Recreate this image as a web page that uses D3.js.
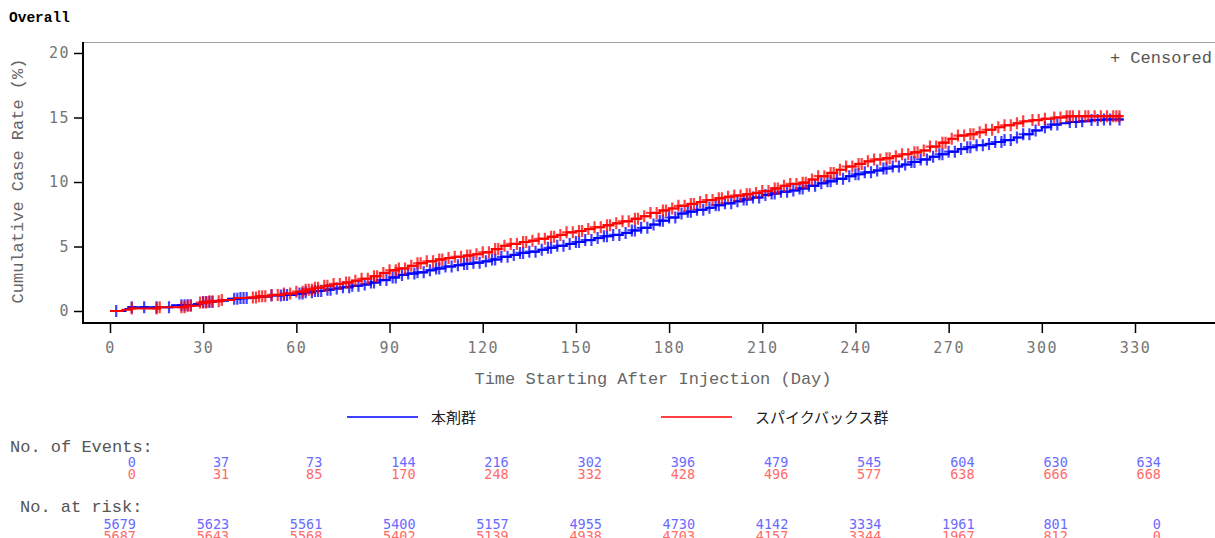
<!DOCTYPE html>
<html>
<head>
<meta charset="utf-8">
<script src="https://cdn.jsdelivr.net/npm/d3@7"></script>
<style>
  body { margin: 0; background: #fff; }
  svg { display: block; }
  .mono { font-family: "Liberation Mono", "DejaVu Sans Mono", monospace; }
  .num { font-family: "DejaVu Sans Mono", monospace; }
</style>
</head>
<body>
<svg id="chart" width="1215" height="538"></svg>
<script>
// 累積発症率 (%) の推移 — 本剤群 vs スパイクバックス群

// 軸の目盛り
const xTicks = [0, 30, 60, 90, 120, 150, 180, 210, 240, 270, 300, 330];
const yTicks = [0, 5, 10, 15, 20];

// 本剤群: [日, 累積発症率%]
const blueKnots = [
  [0, 0], [5, 0.15], [6, 0.3], [20, 0.45], [27, 0.55], [30, 0.7], [34, 0.8], [38, 0.95],
  [42, 1.0], [47, 1.1], [52, 1.2], [56, 1.25], [60, 1.35], [63, 1.45], [66, 1.55], [69, 1.65],
  [72, 1.75], [75, 1.85], [78, 1.95], [81, 2.05], [84, 2.2], [87, 2.4], [90, 2.6], [93, 2.8],
  [96, 2.9], [99, 3.0], [102, 3.15], [105, 3.3], [108, 3.45], [111, 3.55], [114, 3.65],
  [117, 3.75], [120, 3.85], [123, 4.0], [126, 4.2], [129, 4.35], [132, 4.5], [135, 4.6],
  [138, 4.75], [141, 4.9], [144, 5.05], [147, 5.2], [150, 5.35], [153, 5.5], [156, 5.65],
  [159, 5.8], [162, 5.9], [165, 6.05], [168, 6.25], [171, 6.45], [174, 6.7], [177, 7.0],
  [180, 7.25], [183, 7.55], [186, 7.7], [189, 7.85], [192, 8.0], [195, 8.2], [198, 8.35],
  [201, 8.5], [204, 8.65], [207, 8.8], [210, 9.0], [213, 9.1], [216, 9.25], [219, 9.35],
  [222, 9.5], [225, 9.7], [228, 9.9], [231, 10.05], [234, 10.25], [237, 10.45], [240, 10.6],
  [243, 10.75], [246, 10.9], [249, 11.05], [252, 11.2], [255, 11.35], [258, 11.55],
  [261, 11.75], [264, 11.95], [267, 12.15], [270, 12.35], [273, 12.55], [276, 12.7],
  [279, 12.85], [282, 12.95], [285, 13.1], [288, 13.25], [291, 13.45], [294, 13.7],
  [297, 14.0], [300, 14.25], [303, 14.45], [306, 14.55], [309, 14.65], [312, 14.7],
  [316, 14.8], [320, 14.85], [326, 14.9]
];

// スパイクバックス群: [日, 累積発症率%]
const redKnots = [
  [0, 0], [4, 0.1], [7, 0.2], [16, 0.3], [25, 0.4], [29, 0.65], [32, 0.75], [36, 0.85],
  [40, 1.0], [44, 1.05], [48, 1.15], [52, 1.25], [56, 1.35], [60, 1.5], [63, 1.65], [66, 1.8],
  [69, 1.95], [72, 2.1], [75, 2.2], [78, 2.35], [81, 2.5], [84, 2.7], [87, 2.95], [90, 3.15],
  [93, 3.3], [96, 3.5], [99, 3.7], [102, 3.85], [105, 4.0], [108, 4.1], [111, 4.2], [114, 4.3],
  [117, 4.4], [120, 4.55], [123, 4.8], [126, 5.05], [129, 5.2], [132, 5.35], [135, 5.45],
  [138, 5.6], [141, 5.75], [144, 5.9], [147, 6.1], [150, 6.2], [153, 6.35], [156, 6.5],
  [159, 6.65], [162, 6.8], [165, 6.95], [168, 7.15], [171, 7.35], [174, 7.6], [177, 7.8],
  [180, 7.95], [183, 8.15], [186, 8.3], [189, 8.45], [192, 8.6], [195, 8.75], [198, 8.85],
  [201, 8.95], [204, 9.05], [207, 9.15], [210, 9.3], [213, 9.5], [216, 9.7], [219, 9.85],
  [222, 9.95], [225, 10.2], [228, 10.45], [231, 10.7], [234, 10.95], [237, 11.2], [240, 11.4],
  [243, 11.6], [246, 11.75], [249, 11.85], [252, 12.0], [255, 12.15], [258, 12.3],
  [261, 12.45], [264, 12.75], [267, 13.05], [270, 13.35], [273, 13.6], [276, 13.7],
  [279, 13.85], [282, 14.05], [285, 14.25], [288, 14.4], [291, 14.55], [294, 14.7],
  [297, 14.8], [300, 14.9], [304, 15.0], [308, 15.1], [326, 15.1]
];

// 打ち切り (+) の日
const blueCensor = [
  2, 7, 11, 15, 19, 23, 24, 25, 26, 30, 31, 32, 33, 40, 41, 42, 43, 44, 52, 55, 56, 57, 61, 62, 63,
  65, 66, 67, 68, 70, 71, 73, 75, 77, 78, 80, 82, 84, 85, 87, 89, 91, 92, 94, 96, 98, 99, 101,
  103, 105, 106, 108, 110, 112, 114, 115, 117, 119, 121, 123, 124, 126, 128, 130, 132, 133, 135,
  137, 139, 141, 142, 144, 146, 148, 150, 151, 153, 155, 157, 159, 160, 162, 164, 166, 168, 169,
  171, 173, 175, 177, 178, 180, 182, 184, 186, 187, 189, 191, 193, 195, 196, 198, 200, 202, 204,
  205, 207, 209, 211, 213, 214, 216, 218, 220, 222, 223, 225, 227, 229, 231, 232, 234, 236, 238,
  240, 241, 243, 245, 247, 249, 250, 252, 254, 256, 258, 259, 261, 263, 265, 267, 268, 270, 272,
  274, 276, 277, 279, 281, 283, 285, 287, 288, 290, 292, 294, 296, 298, 301, 303, 305, 309, 311,
  313, 316, 318, 320, 322, 325
];
const redCensor = [
  7, 15, 16, 23, 24, 25, 26, 29, 30, 31, 32, 33, 35, 36, 46, 47, 48, 49, 50, 52, 54, 56, 58, 60,
  62, 63, 64, 65, 66, 67, 69, 70, 72, 74, 76, 77, 79, 81, 83, 85, 86, 88, 90, 92, 93, 95, 97, 99,
  100, 102, 104, 106, 107, 109, 111, 113, 115, 116, 118, 120, 122, 124, 125, 127, 129, 131, 133,
  134, 136, 138, 140, 142, 143, 145, 147, 149, 151, 152, 154, 156, 158, 160, 161, 163, 165, 167,
  169, 170, 172, 174, 176, 178, 179, 181, 183, 185, 187, 188, 190, 192, 194, 196, 197, 199, 201,
  203, 205, 206, 208, 210, 212, 214, 215, 217, 219, 221, 223, 224, 226, 228, 230, 232, 233, 235,
  237, 239, 241, 242, 244, 246, 248, 250, 251, 253, 255, 257, 259, 260, 262, 264, 266, 268, 269,
  271, 273, 275, 277, 278, 280, 282, 284, 286, 288, 290, 292, 294, 297, 299, 301, 304, 306, 308,
  309, 310, 312, 314, 315, 317, 319, 321, 323, 324, 325
];

// No. of Events / No. at risk (0, 30, ..., 330日)
const blueEvents = [0, 37, 73, 144, 216, 302, 396, 479, 545, 604, 630, 634];
const redEvents  = [0, 31, 85, 170, 248, 332, 428, 496, 577, 638, 666, 668];
const blueRisk = [5679, 5623, 5561, 5400, 5157, 4955, 4730, 4142, 3334, 1961, 801, 0];
const redRisk  = [5687, 5643, 5568, 5402, 5139, 4938, 4703, 4157, 3344, 1967, 812, 0];

const groupNames = ["本剤群", "スパイクバックス群"];
const colorBlue = "#0000ff";
const colorRed = "#ff0000";

const svg = d3.select("#chart");

// プロット領域
const plot = { left: 83, top: 42, right: 1215, bottom: 323 };
const x = d3.scaleLinear().domain([0, 330]).range([110, 1135]);
const y = d3.scaleLinear().domain([0, 20]).range([311, 53]);

// タイトル
svg.append("text")
  .attr("class", "mono")
  .attr("x", 9).attr("y", 22)
  .attr("font-size", 14.5).attr("font-weight", "bold")
  .attr("fill", "#000")
  .text("Overall");

// 枠線
svg.append("line")
  .attr("x1", plot.left).attr("x2", plot.right)
  .attr("y1", plot.top + 0.5).attr("y2", plot.top + 0.5)
  .attr("stroke", "#a0a0a0").attr("stroke-width", 1);

// Y軸
const yAxis = svg.append("g")
  .attr("transform", `translate(${plot.left},0)`)
  .call(d3.axisLeft(y).tickValues(yTicks).tickSize(9).tickPadding(4));
yAxis.select(".domain").remove();
yAxis.selectAll(".tick line").attr("stroke", "#000").attr("stroke-width", 1.5);
yAxis.selectAll(".tick text")
  .attr("class", "num")
  .attr("font-size", 15)
  .attr("letter-spacing", 1.5)
  .attr("fill", "#757575");

// X軸
const xAxis = svg.append("g")
  .attr("transform", `translate(0,${plot.bottom})`)
  .call(d3.axisBottom(x).tickValues(xTicks).tickSize(10).tickPadding(9));
xAxis.select(".domain").remove();
xAxis.selectAll(".tick line").attr("stroke", "#000").attr("stroke-width", 1.5);
xAxis.selectAll(".tick text")
  .attr("class", "num")
  .attr("font-size", 15)
  .attr("letter-spacing", 1.5)
  .attr("fill", "#757575");

svg.append("line")
  .attr("x1", plot.left).attr("x2", plot.left)
  .attr("y1", plot.top).attr("y2", plot.bottom + 1)
  .attr("stroke", "#000").attr("stroke-width", 2);
svg.append("line")
  .attr("x1", plot.left).attr("x2", plot.right)
  .attr("y1", plot.bottom).attr("y2", plot.bottom)
  .attr("stroke", "#000").attr("stroke-width", 2);

// 軸タイトル
svg.append("text")
  .attr("class", "mono")
  .attr("transform", "translate(23,181) rotate(-90)")
  .attr("text-anchor", "middle")
  .attr("font-size", 17)
  .attr("fill", "#666")
  .text("Cumulative Case Rate (%)");

svg.append("text")
  .attr("class", "mono")
  .attr("x", 653).attr("y", 384)
  .attr("text-anchor", "middle")
  .attr("font-size", 17)
  .attr("fill", "#666")
  .text("Time Starting After Injection (Day)");

// 凡例 (Censored)
svg.append("text")
  .attr("class", "mono")
  .attr("x", 1212).attr("y", 63)
  .attr("text-anchor", "end")
  .attr("font-size", 17)
  .attr("fill", "#555")
  .text("+ Censored");

// 曲線
const stepLine = d3.line()
  .x(d => x(d[0]))
  .y(d => y(d[1]))
  .curve(d3.curveStepAfter);

const bisect = d3.bisector(d => d[0]).right;
function valueAt(knots, day) {
  const i = bisect(knots, day);
  return knots[Math.max(0, i - 1)][1];
}

function drawGroup(knots, censor, color) {
  const g = svg.append("g");
  g.append("path")
    .datum(knots)
    .attr("d", stepLine)
    .attr("fill", "none")
    .attr("stroke", color)
    .attr("stroke-width", 2);

  g.selectAll("path.censor")
    .data(censor)
    .enter()
    .append("path")
    .attr("class", "censor")
    .attr("d", d => {
      const cx = x(d), cy = y(valueAt(knots, d));
      return `M${cx - 4.5},${cy}H${cx + 4.5}M${cx},${cy - 6}V${cy + 6}`;
    })
    .attr("stroke", color)
    .attr("stroke-width", 2.2)
    .attr("stroke-opacity", 0.75)
    .attr("fill", "none");
}

drawGroup(blueKnots, blueCensor, colorBlue);
drawGroup(redKnots, redCensor, colorRed);

// 凡例
const legend = [
  { name: groupNames[0], color: colorBlue, x1: 347, tx: 431 },
  { name: groupNames[1], color: colorRed, x1: 661, tx: 755 }
];
legend.forEach(d => {
  svg.append("line")
    .attr("x1", d.x1).attr("x2", d.x1 + 71)
    .attr("y1", 417).attr("y2", 417)
    .attr("stroke", d.color).attr("stroke-width", 1.5);
  svg.append("text")
    .attr("x", d.tx).attr("y", 423)
    .attr("font-family", "'Noto Sans CJK JP', sans-serif")
    .attr("font-size", 15)
    .attr("fill", "#222")
    .text(d.name);
});

// No. of Events / No. at risk
svg.append("text")
  .attr("class", "mono")
  .attr("x", 10).attr("y", 452)
  .attr("font-size", 17).attr("fill", "#555")
  .text("No. of Events:");
svg.append("text")
  .attr("class", "mono")
  .attr("x", 20).attr("y", 512)
  .attr("font-size", 17).attr("fill", "#555")
  .text("No. at risk:");

function numberRow(values, yPos, color) {
  svg.append("g")
    .selectAll("text")
    .data(values)
    .enter()
    .append("text")
    .attr("class", "num")
    .attr("x", (d, i) => x(xTicks[i]) + 26)
    .attr("y", yPos)
    .attr("text-anchor", "end")
    .attr("font-size", 13.5)
    .attr("fill", color)
    .text(d => d);
}

numberRow(blueEvents, 467, "#6a6aff");
numberRow(redEvents, 479, "#ff6a6a");
numberRow(blueRisk, 529, "#6a6aff");
numberRow(redRisk, 541, "#ff6a6a");
</script>
</body>
</html>
